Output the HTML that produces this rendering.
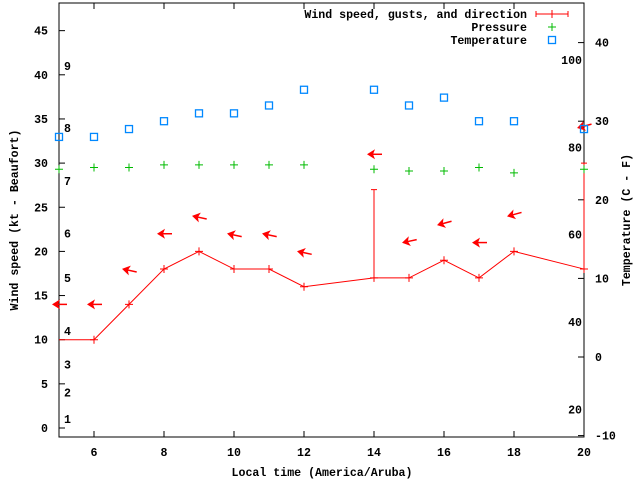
<!DOCTYPE html>
<html><head><meta charset="utf-8"><style>
body{margin:0;background:#fff}
svg{display:block}
text{font-family:"Liberation Mono",monospace;font-size:11.6px;font-weight:bold;fill:#000}
</style></head><body>
<svg id="c" width="640" height="480" xmlns="http://www.w3.org/2000/svg"></svg>
<script>
const hours=[5,6,7,8,9,10,11,12,14,15,16,17,18,20];
const windKt=[10,10,14,18,20,18,18,16,17,17,19,17,20,18];
const gustHours=[14,20];
const gustKt=[27,30];
const arrowY=[14,14,18,22,24,22,22,20,31,21,23,21,24,34];
const arrowTilt=[0,0,12,0,12,12,12,12,0,-12,-15,0,-15,-15];
const pressure=[29.3,29.5,29.5,29.8,29.8,29.8,29.8,29.8,29.3,29.1,29.1,29.5,28.9,29.3];
const tempC=[28,28,29,30,31,31,32,34,34,32,33,30,30,29];
const xTicks=[6,8,10,12,14,16,18,20];
const yTicks=[0,5,10,15,20,25,30,35,40,45];
const cTicks=[-10,0,10,20,30,40];
const fTicks=[20,40,60,80,100];
const beaufort=[[1,1],[2,4],[3,7.2],[4,11],[5,17],[6,22],[7,28],[8,34],[9,41]];

const L=59,R=584,T=3,B=437;
const X=v=>L+(v-5)/15*(R-L);
const Y=v=>428-v*8.83;
const YC=c=>357-c*7.86;
const YF=f=>YC((f-32)*5/9);
const svg=document.getElementById('c');
const NS='http://www.w3.org/2000/svg';
function mk(tag,at,txt){const e=document.createElementNS(NS,tag);for(const k in at)e.setAttribute(k,at[k]);if(txt!=null)e.textContent=txt;svg.appendChild(e);return e;}

let f=mk('rect',{x:L,y:T,width:R-L,height:B-T,fill:'none',stroke:'#000','stroke-width':1});


xTicks.forEach(v=>{
  let t=mk('line',{x1:X(v),x2:X(v),y1:B,y2:B-6,stroke:'#000'});
  
  let t2=mk('line',{x1:X(v),x2:X(v),y1:T,y2:T+6,stroke:'#000'});
  
  let l=mk('text',{x:X(v),y:B+19,'text-anchor':'middle'},v);
  
});
yTicks.forEach(v=>{
  let t=mk('line',{x1:L,x2:L+6,y1:Y(v),y2:Y(v),stroke:'#000'});
  
  let l=mk('text',{x:L-11,y:Y(v)+4,'text-anchor':'end'},v);
  
});
cTicks.forEach(v=>{
  let t=mk('line',{x1:R,x2:R-6,y1:YC(v),y2:YC(v),stroke:'#000'});
  
  let l=mk('text',{x:R+11,y:YC(v)+4},v);
  
});
fTicks.forEach(v=>{
  let l=mk('text',{x:R-2,y:YF(v)+4,'text-anchor':'end'},v);
  
});
beaufort.forEach(([b,k])=>{
  let l=mk('text',{x:64,y:Y(k)+4},b);
  
});
let pts=hours.map((h,i)=>X(h)+','+Y(windKt[i])).join(' ');
let pl=mk('polyline',{points:pts,fill:'none',stroke:'#f00','stroke-width':1});

hours.forEach((h,i)=>{if(i===0)return;
  let p=mk('path',{d:`M${X(h)-4},${Y(windKt[i])}h8M${X(h)},${Y(windKt[i])-4}v8`,stroke:'#f00'});
  
});
gustHours.forEach((h,i)=>{
  const w=windKt[hours.indexOf(h)];
  let g=mk('path',{d:`M${X(h)},${Y(w)}V${Y(gustKt[i])}M${X(h)-3},${Y(gustKt[i])}h6`,stroke:'#f00'});
  
});
hours.forEach((h,i)=>{
  const x=X(h)-6,y=Y(arrowY[i]);
  let g=mk('g',{transform:`translate(${x},${y}) rotate(${arrowTilt[i]})`});
  
  const a=document.createElementNS(NS,'path');
  a.setAttribute('d','M-1,0L7,-5L5,0L7,5Z');a.setAttribute('fill','#f00');g.appendChild(a);
  const s=document.createElementNS(NS,'line');
  s.setAttribute('x1',3);s.setAttribute('x2',14);s.setAttribute('y1',0);s.setAttribute('y2',0);s.setAttribute('stroke','#f00');s.setAttribute('stroke-width',1.5);g.appendChild(s);
});
hours.forEach((h,i)=>{
  let p=mk('path',{d:`M${X(h)-4},${Y(pressure[i])}h8M${X(h)},${Y(pressure[i])-4}v8`,stroke:'#0b0'});
  
});
hours.forEach((h,i)=>{
  let r=mk('rect',{x:X(h)-3.5,y:YC(tempC[i])-3.5,width:7,height:7,fill:'none',stroke:'#08f','stroke-width':1.3});
  
});
const leg=[['Wind speed, gusts, and direction',14],['Pressure',27],['Temperature',40]];
leg.forEach(([t,y])=>{let l=mk('text',{x:527,y:y+4,'text-anchor':'end'},t);
  });
let s1=mk('path',{d:'M536,14h32M536,11v6M568,11v6M552,10v8',stroke:'#f00'});

let s2=mk('path',{d:'M548,27h8M552,23v8',stroke:'#0b0'});

let s3=mk('rect',{x:548.5,y:36.5,width:7,height:7,fill:'none',stroke:'#08f','stroke-width':1.3});

let xt=mk('text',{x:322,y:476,'text-anchor':'middle'},'Local time (America/Aruba)');

let yt=mk('text',{x:18,y:220,'text-anchor':'middle',transform:'rotate(-90 18 220)'},'Wind speed (kt - Beaufort)');

let y2=mk('text',{x:630,y:220,'text-anchor':'middle',transform:'rotate(-90 630 220)'},'Temperature (C - F)');

</script>
</body></html>
